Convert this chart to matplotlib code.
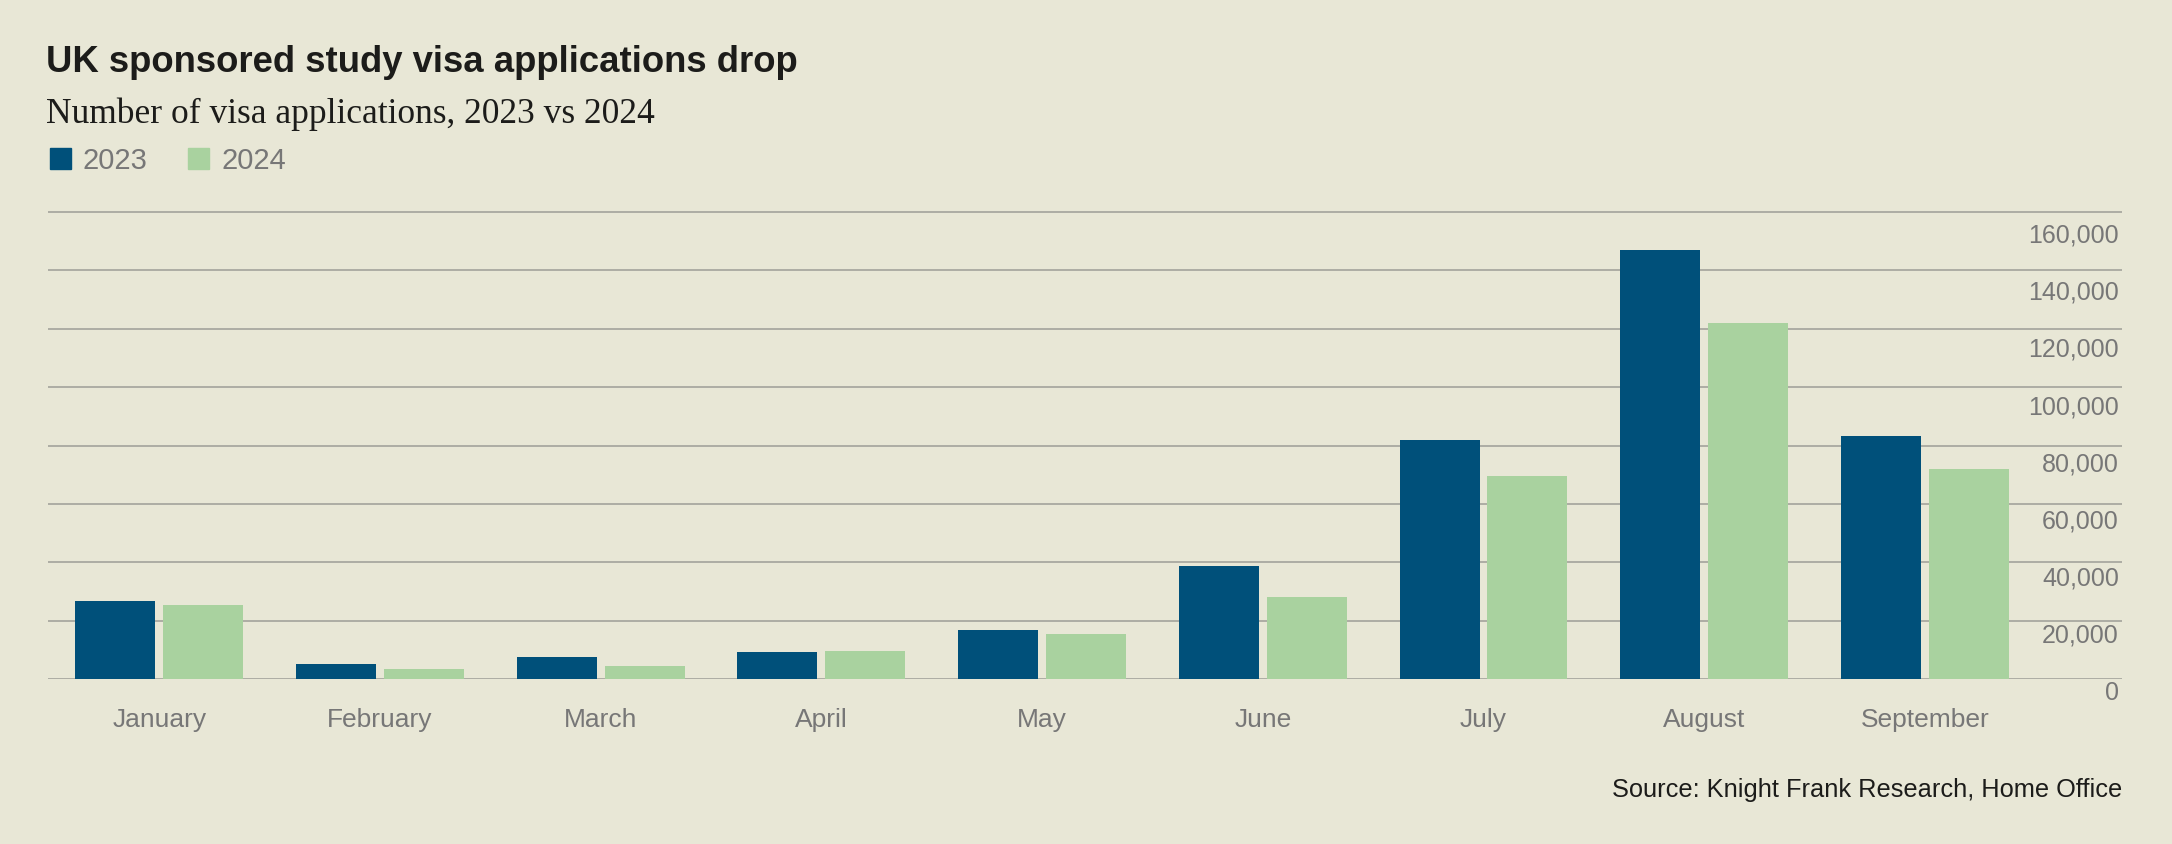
import numpy as np
import matplotlib
matplotlib.use("Agg")
import matplotlib.pyplot as plt
from matplotlib.patches import Patch

# data
months = ["January", "February", "March", "April", "May", "June",
          "July", "August", "September"]
apps_2023 = [26700, 5000, 7500, 9400, 16700, 38700, 82000, 147100, 83400]
apps_2024 = [25300, 3400, 4600, 9500, 15300, 28000, 69400, 121800, 72000]
yticks = [0, 20000, 40000, 60000, 80000, 100000, 120000, 140000, 160000]

bg = "#E8E7D6"
dark = "#00507A"
green = "#A9D29F"
grid_c = "#A3A39C"
grey_txt = "#777777"
ink = "#1C1C1A"

plt.rcParams["font.family"] = ["Liberation Sans", "DejaVu Sans"]

W, H = 2172, 844
fig = plt.figure(figsize=(W / 100, H / 100), dpi=100, facecolor=bg)

ymax = 162000
y0_px, y160_px = 679, 212
px_per = (y0_px - y160_px) / 160000
ax_h = ymax * px_per
ax = fig.add_axes([48 / W, (H - y0_px) / H, (2122 - 48) / W, ax_h / H])
ax.set_facecolor(bg)

x = np.arange(len(months))
bw = 0.3625
off = 0.199
ax.bar(x - off, apps_2023, bw, color=dark, zorder=3)
ax.bar(x + off, apps_2024, bw, color=green, zorder=3)

ax.set_xlim(-0.504, 8.893)
ax.set_ylim(0, ymax)

for t in yticks:
    ax.axhline(t, color=grid_c, lw=1.2, zorder=1)
    # labels sit a little under each gridline, gap grows towards the top
    gap = 14 + 9.5 * t / 160000
    ax.text(0.9985, t - gap / px_per, f"{t:,}", transform=ax.get_yaxis_transform(),
            ha="right", va="center", fontsize=18, color=grey_txt)

ax.set_yticks([])
ax.set_xticks(x)
ax.set_xticklabels(months, fontsize=19, color=grey_txt)
ax.tick_params(axis="x", length=0, pad=21)
for s in ax.spines.values():
    s.set_visible(False)

fig.text(46 / W, 1 - 63 / H, "UK sponsored study visa applications drop",
         fontsize=26.3, fontweight="bold", color=ink, va="center", ha="left")
fig.text(46 / W, 1 - 114 / H, "Number of visa applications, 2023 vs 2024",
         fontsize=25.5, family=["Liberation Serif", "DejaVu Serif"], color=ink,
         va="center", ha="left")

handles = [Patch(color=dark, label="2023"), Patch(color=green, label="2024")]
fig.legend(handles=handles, loc="center left", bbox_to_anchor=(50 / W, 1 - 161 / H),
           ncol=2, frameon=False, fontsize=21, labelcolor=grey_txt,
           handlelength=0.72, handleheight=0.72, handletextpad=0.4,
           columnspacing=1.4, borderaxespad=0, borderpad=0)

fig.text(2122 / W, 1 - 790 / H, "Source: Knight Frank Research, Home Office",
         fontsize=18.3, color=ink, ha="right", va="center")

fig.savefig("out.png", dpi=100, facecolor=bg)
